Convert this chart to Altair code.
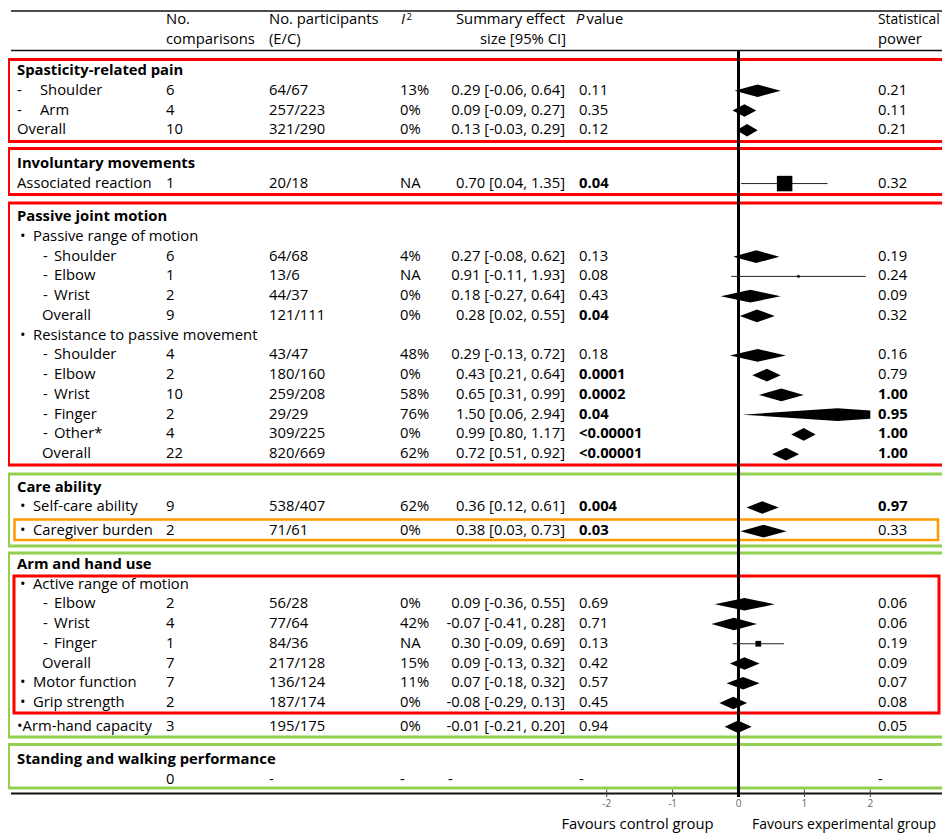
import altair as alt
import pandas as pd

# ---------------- data ----------------
labels = ["Spasticity-related pain", "Shoulder", "Arm", "Overall",
          "Involuntary movements", "Associated reaction",
          "Passive joint motion", "Passive range of motion", "Shoulder", "Elbow", "Wrist", "Overall",
          "Resistance to passive movement", "Shoulder", "Elbow", "Wrist", "Finger", "Other*", "Overall",
          "Care ability", "Self-care ability", "Caregiver burden",
          "Arm and hand use", "Active range of motion", "Elbow", "Wrist", "Finger", "Overall",
          "Motor function", "Grip strength", "\u2022Arm-hand capacity",
          "Standing and walking performance", ""]
kinds = ["title", "dash1", "dash1", "plain0",
         "title", "plain0",
         "title", "bullet", "dash2", "dash2", "dash2", "plain2",
         "bullet", "dash2", "dash2", "dash2", "dash2", "dash2", "plain2",
         "title", "bullet", "bullet",
         "title", "bullet", "dash2", "dash2", "dash2", "plain2",
         "bullet", "bullet", "plain0",
         "title", "plain0"]
n_comp = ["", "6", "4", "10", "", "1", "", "", "6", "1", "2", "9", "", "4", "2", "10", "2", "4", "22",
          "", "9", "2", "", "", "2", "4", "1", "7", "7", "2", "3", "", "0"]
participants = ["", "64/67", "257/223", "321/290", "", "20/18", "", "", "64/68", "13/6", "44/37", "121/111",
                "", "43/47", "180/160", "259/208", "29/29", "309/225", "820/669", "", "538/407", "71/61",
                "", "", "56/28", "77/64", "84/36", "217/128", "136/124", "187/174", "195/175", "", "-"]
i2 = ["", "13%", "0%", "0%", "", "NA", "", "", "4%", "NA", "0%", "0%", "", "48%", "0%", "58%", "76%", "0%",
      "62%", "", "62%", "0%", "", "", "0%", "42%", "NA", "15%", "11%", "0%", "0%", "", "-"]
est = [None, 0.29, 0.09, 0.13, None, 0.70, None, None, 0.27, 0.91, 0.18, 0.28, None, 0.29, 0.43, 0.65,
       1.50, 0.99, 0.72, None, 0.36, 0.38, None, None, 0.09, -0.07, 0.30, 0.09, 0.07, -0.08, -0.01, None, None]
lo = [None, -0.06, -0.09, -0.03, None, 0.04, None, None, -0.08, -0.11, -0.27, 0.02, None, -0.13, 0.21, 0.31,
      0.06, 0.80, 0.51, None, 0.12, 0.03, None, None, -0.36, -0.41, -0.09, -0.13, -0.18, -0.29, -0.21, None, None]
hi = [None, 0.64, 0.27, 0.29, None, 1.35, None, None, 0.62, 1.93, 0.64, 0.55, None, 0.72, 0.64, 0.99,
      2.94, 1.17, 0.92, None, 0.61, 0.73, None, None, 0.55, 0.28, 0.69, 0.32, 0.32, 0.13, 0.20, None, None]
pval = ["", "0.11", "0.35", "0.12", "", "0.04", "", "", "0.13", "0.08", "0.43", "0.04", "", "0.18", "0.0001",
        "0.0002", "0.04", "<0.00001", "<0.00001", "", "0.004", "0.03", "", "", "0.69", "0.71", "0.13", "0.42",
        "0.57", "0.45", "0.94", "", "-"]
p_bold = [False, False, False, False, False, True, False, False, False, False, False, True, False, False, True,
          True, True, True, True, False, True, True, False, False, False, False, False, False, False, False,
          False, False, False]
power = ["", "0.21", "0.11", "0.21", "", "0.32", "", "", "0.19", "0.24", "0.09", "0.32", "", "0.16", "0.79",
         "1.00", "0.95", "1.00", "1.00", "", "0.97", "0.33", "", "", "0.06", "0.06", "0.19", "0.09", "0.07",
         "0.08", "0.05", "", "-"]
pow_bold = [False, False, False, False, False, False, False, False, False, False, False, False, False, False,
            False, True, True, True, True, False, True, False, False, False, False, False, False, False, False,
            False, False, False, False]
tick_vals = [-2, -1, 0, 1, 2]

# ---------------- style ----------------
FONT = "Open Sans"
FS = 14.8
UNIT = 19.75          # px per row
ROW0 = 71             # page y of the first row
H = 828
W = 934
XMIN, XMAX = -2.0, 2.0
HALF = 0.32           # diamond half-height in rows
KIND_X = {"title": 9, "dash1": 32, "plain0": 9, "bullet": 25, "dash2": 46, "plain2": 34}
GLYPH = {"dash1": ("-", 9), "bullet": ("\u2022", 12), "dash2": ("-", 35)}
SQ = {"Associated reaction": 240, "Elbow": 6, "Finger": 33}


def u(py):
    return (py - ROW0) / UNIT


yscale = alt.Scale(domain=[u(8), u(8 + H)], range=[0, H])
xscale = alt.Scale(domain=[XMIN, XMAX], range=[598.7, 862.3])

# row positions (with gaps between groups)
pos = []
p = 0.0
for i, (lab, kind) in enumerate(zip(labels, kinds)):
    if i > 0:
        if kind == "title":
            p += 1.7
        elif lab in ("Caregiver burden", "\u2022Arm-hand capacity"):
            p += 1.2
        else:
            p += 1.0
    pos.append(p)

summ = []
summ_left = []
for e, l, h in zip(est, lo, hi):
    if e is None:
        summ.append("")
    else:
        summ.append(f"{e:.2f} [{l:.2f}, {h:.2f}]")
    summ_left.append("")
summ_left[-1] = "-"

df = pd.DataFrame({
    "pos": pos, "label": labels, "kind": kinds, "n": n_comp, "part": participants, "i2": i2,
    "summ": summ, "summ_left": summ_left,
    "p_b": [v if b else "" for v, b in zip(pval, p_bold)],
    "p_n": [v if not b else "" for v, b in zip(pval, p_bold)],
    "w_b": [v if b else "" for v, b in zip(power, pow_bold)],
    "w_n": [v if not b else "" for v, b in zip(power, pow_bold)],
})
df["lx"] = [KIND_X[k] for k in kinds]
df["glyph"] = [GLYPH[k][0] if k in GLYPH else "" for k in kinds]
df["gx"] = [GLYPH[k][1] if k in GLYPH else 0 for k in kinds]
df["is_title"] = [k == "title" for k in kinds]

Y = alt.Y("pos:Q", scale=yscale, axis=None)


def text_layer(data, field, x, align="left", weight="normal", style="normal", size=FS, color="black"):
    xenc = alt.X(f"{x}:Q", scale=None) if isinstance(x, str) else alt.value(x)
    return alt.Chart(data).mark_text(
        align=align, baseline="middle", font=FONT, fontSize=size, fontWeight=weight,
        fontStyle=style, color=color
    ).encode(x=xenc, y=Y, text=f"{field}:N")


layers = []

# group boxes
boxes = pd.DataFrame([
    dict(x1=0.5, x2=965, top=u(59.5), bot=u(141.5), c="#ff0000", sw=3),
    dict(x1=0.5, x2=965, top=u(148.5), bot=u(194.5), c="#ff0000", sw=3),
    dict(x1=0.5, x2=965, top=u(203), bot=u(465), c="#ff0000", sw=3),
    dict(x1=0.5, x2=965, top=u(474), bot=u(546), c="#92d050", sw=3),
    dict(x1=6.5, x2=930, top=u(519.5), bot=u(540), c="#ff9900", sw=2.5),
    dict(x1=0.5, x2=965, top=u(553), bot=u(737), c="#92d050", sw=3),
    dict(x1=6, x2=931, top=u(576), bot=u(713), c="#ff0000", sw=3),
    dict(x1=0.5, x2=965, top=u(744.5), bot=u(788), c="#92d050", sw=3),
])
layers.append(alt.Chart(boxes).mark_rect(fillOpacity=0).encode(
    x=alt.X("x1:Q", scale=None), x2="x2:Q",
    y=alt.Y("top:Q", scale=yscale, axis=None), y2="bot:Q",
    stroke=alt.Color("c:N", scale=None), strokeWidth=alt.StrokeWidth("sw:Q", scale=None)))

# horizontal table rules
hl = pd.DataFrame({"pos": [u(11), u(50.5), u(793.5)], "sw": [1.6, 1.6, 2.2]})
layers.append(alt.Chart(hl).mark_rule(color="#111").encode(
    x=alt.value(3), x2=alt.value(965), y=Y, strokeWidth=alt.StrokeWidth("sw:Q", scale=None)))

# axis ticks and labels
ticks = pd.DataFrame({"x": tick_vals, "t0": u(789.5), "t1": u(797), "pos": u(803.5),
                      "lab": [str(v) for v in tick_vals]})
layers.append(alt.Chart(ticks).mark_rule(color="#444", strokeWidth=1).encode(
    x=alt.X("x:Q", scale=xscale, axis=None), y=alt.Y("t0:Q", scale=yscale, axis=None), y2="t1:Q"))
layers.append(alt.Chart(ticks).mark_text(font=FONT, fontSize=10, color="#666", baseline="middle").encode(
    x=alt.X("x:Q", scale=xscale, axis=None), y=Y, text="lab:N"))

# zero line
zl = pd.DataFrame({"x": [0.0], "a": [u(51)], "b": [u(797)]})
layers.append(alt.Chart(zl).mark_rule(color="black", strokeWidth=3).encode(
    x=alt.X("x:Q", scale=xscale, axis=None), y=alt.Y("a:Q", scale=yscale, axis=None), y2="b:Q"))

# diamonds (pooled) and squares (single comparison)
dia = []
single = []
for i in range(len(labels)):
    if est[i] is None:
        continue
    if n_comp[i] == "1":
        single.append(dict(pos=pos[i], est=est[i], lo=lo[i], hi=hi[i], sq=SQ.get(labels[i], 30)))
        continue
    e, l, h, pp = est[i], lo[i], hi[i], pos[i]
    dia.append(dict(id=i, x=l, y=pp, y2=pp))
    dia.append(dict(id=i, x=e, y=pp - HALF, y2=pp + HALF))
    if h > XMAX:
        f = (h - XMAX) / (h - e)
        dia.append(dict(id=i, x=XMAX, y=pp - HALF * f, y2=pp + HALF * f))
    else:
        dia.append(dict(id=i, x=h, y=pp, y2=pp))
dia = pd.DataFrame(dia)
single = pd.DataFrame(single)

layers.append(alt.Chart(dia).mark_area(orient="vertical", color="black", opacity=1, interpolate="linear").encode(
    x=alt.X("x:Q", scale=xscale, axis=None), y=alt.Y("y:Q", scale=yscale, axis=None), y2="y2:Q",
    detail="id:N"))
layers.append(alt.Chart(single).mark_rule(color="#222", strokeWidth=1).encode(
    x=alt.X("lo:Q", scale=xscale, axis=None), x2="hi:Q", y=Y))
layers.append(alt.Chart(single).mark_square(color="black", filled=True, opacity=1).encode(
    x=alt.X("est:Q", scale=xscale, axis=None), y=Y, size=alt.Size("sq:Q", scale=None)))

# header
hdr = pd.DataFrame({
    "pos": [u(20), u(40), u(20), u(40), u(20), u(40), u(40), u(20)],
    "t": ["No.", "comparisons", "No. participants", "(E/C)", "Summary effect", "size [95% CI]",
          "power", "value"],
    "x": [158, 158, 261, 261, 557, 558, 870, 578.5],
    "al": ["left", "left", "left", "left", "right", "right", "left", "left"],
})
for al in ["left", "right"]:
    layers.append(text_layer(hdr[hdr["al"] == al], "t", "x", align=al))
stat = pd.DataFrame({"pos": [u(20)], "t": ["Statistical"]})
layers.append(text_layer(stat, "t", 870, size=13.9))
hdr_it = pd.DataFrame({"pos": [u(20), u(20)], "t": ["I", "P"], "x": [393, 568]})
layers.append(text_layer(hdr_it, "t", "x", style="italic"))
sup = pd.DataFrame({"pos": [u(16.5)], "t": ["2"]})
layers.append(text_layer(sup, "t", 398.5, size=9.5))

# table body
layers.append(text_layer(df[df["is_title"]], "label", "lx", weight="bold"))
layers.append(text_layer(df[~df["is_title"]], "label", "lx"))
layers.append(text_layer(df, "glyph", "gx"))
layers.append(text_layer(df, "n", 158))
layers.append(text_layer(df, "part", 261))
layers.append(text_layer(df, "i2", 392))
layers.append(text_layer(df, "summ", 557, align="right"))
layers.append(text_layer(df, "summ_left", 440))
layers.append(text_layer(df, "p_n", 571))
layers.append(text_layer(df, "p_b", 571, weight="bold"))
layers.append(text_layer(df, "w_n", 870))
layers.append(text_layer(df, "w_b", 870, weight="bold"))

# favours labels
fav1 = pd.DataFrame({"pos": [u(825)], "t": ["Favours control group"]})
fav2 = pd.DataFrame({"pos": [u(825)], "t": ["Favours experimental group"]})
layers.append(text_layer(fav1, "t", 629.5, align="center"))
layers.append(text_layer(fav2, "t", 744, align="left", size=14.0))

chart = alt.layer(*layers).properties(
    width=W, height=H, padding=0, autosize=alt.AutoSizeParams(type="none")
).configure_view(strokeWidth=0)

chart.save("out.html", embed_options={"renderer": "svg", "actions": False})
